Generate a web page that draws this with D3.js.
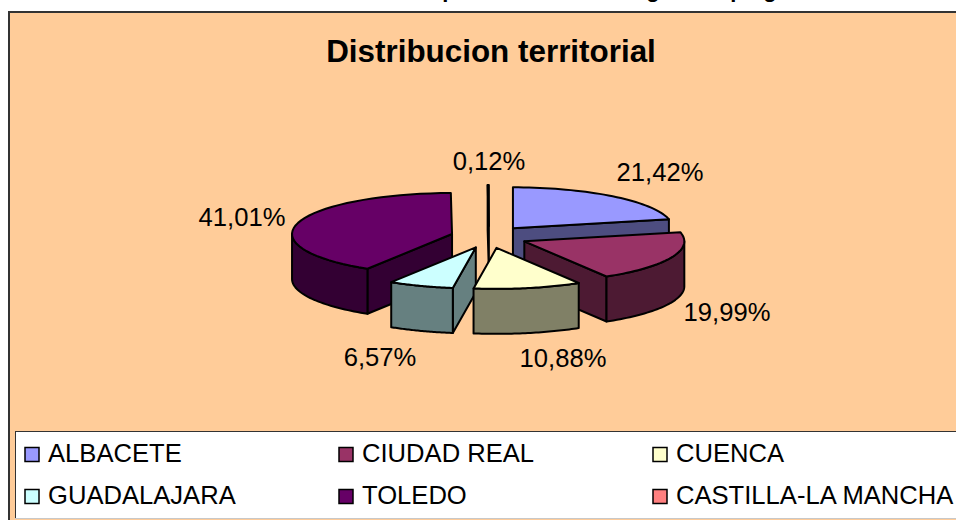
<!DOCTYPE html>
<html><head><meta charset="utf-8">
<script src="https://cdn.jsdelivr.net/npm/d3@7"></script>
<style>html,body{margin:0;padding:0;background:#fff}svg{display:block}text{font-family:"Liberation Sans",Arial,sans-serif;fill:#000}</style>
</head><body><svg id="c" width="956" height="520"></svg>
<script>
const categories=["ALBACETE","CIUDAD REAL","CUENCA","GUADALAJARA","TOLEDO","CASTILLA-LA MANCHA"];
const shares=[21.42,19.99,10.88,6.57,41.01,0.12];
const pctLabels=["21,42%","19,99%","10,88%","6,57%","41,01%","0,12%"];
const colors=["#9999FF","#993366","#FFFFCC","#CCFFFF","#660066","#FF8080"];
const sideColors=["#4d4d80","#4d1a33","#808066","#668080","#330033","#804040"];
const drawOrder=[0,5,4,1,3,2];
const labelPos=[[660,172],[727,312],[563,358],[380,357],[242,217],[489,161]];
const clippedGlyphs=[["p",449],["g",653],["p",737],["g",770]];

const svg=d3.select("#c");
clippedGlyphs.forEach(d=>svg.append("text").attr("x",d[1]).attr("y",-3).attr("text-anchor","middle")
  .attr("font-size",22).attr("font-weight","bold").text(d[0]));
svg.append("rect").attr("x",9).attr("y",12).attr("width",960).attr("height",520)
  .attr("fill","#FFCC99").attr("stroke","#333").attr("stroke-width",2);
svg.append("text").attr("x",491).attr("y",62).attr("text-anchor","middle")
  .attr("font-size",31.4).attr("font-weight","bold").text("Distribucion territorial");

const sx=d3.scaleLinear().domain([-1,1]).range([329,649]);
const sy=d3.scaleLinear().domain([-1,1]).range([196,278]);
const depth=45, exX=0.24, exY=0.27;
const arcs=d3.pie().sort(null).value(d=>d)(shares);
const g=svg.append("g").attr("stroke","#000").attr("stroke-width",2).attr("stroke-linejoin","round");
const poly=pts=>d3.line()(pts);
drawOrder.forEach(i=>{
  const a=arcs[i], m=(a.startAngle+a.endAngle)/2;
  const ox=exX*Math.sin(m), oy=-exY*Math.cos(m);
  const pt=t=>[sx(ox+Math.sin(t)),sy(oy-Math.cos(t))];
  const apex=[sx(ox),sy(oy)];
  const down=p=>[p[0],p[1]+depth];
  const rim=(s,e)=>d3.range(0,41).map(k=>pt(s+(e-s)*k/40));
  const wall=pts=>g.append("path").attr("d",poly(pts.concat(pts.map(down).reverse()))+"Z").attr("fill",sideColors[i]);
  if(Math.sin(a.startAngle)<0) wall([apex,pt(a.startAngle)]);
  if(Math.sin(a.endAngle)>1e-6) wall([apex,pt(a.endAngle)]);
  const s=Math.max(a.startAngle,Math.PI/2), e=Math.min(a.endAngle,3*Math.PI/2);
  if(e>s) wall(rim(s,e));
  g.append("path").attr("d",poly([apex].concat(rim(a.startAngle,a.endAngle)))+"Z").attr("fill",colors[i]);
});
pctLabels.forEach((t,i)=>svg.append("text").attr("x",labelPos[i][0]).attr("y",labelPos[i][1]+9)
  .attr("text-anchor","middle").attr("font-size",25.6).text(t));

svg.append("rect").attr("x",15.5).attr("y",431.5).attr("width",960).attr("height",87)
  .attr("fill","#fff").attr("stroke","#333").attr("stroke-width",1);
svg.append("line").attr("x1",15).attr("x2",956).attr("y1",518.5).attr("y2",518.5).attr("stroke","#c8c8c8");
const lx=d3.scaleOrdinal().domain([0,1,2]).range([25,339,653]);
const ly=d3.scaleOrdinal().domain([0,1]).range([453,495]);
categories.forEach((c,i)=>{
  const col=i%3,row=Math.floor(i/3);
  svg.append("rect").attr("x",lx(col)).attr("y",ly(row)-5.5).attr("width",14).attr("height",14)
    .attr("fill",colors[i]).attr("stroke","#000").attr("stroke-width",1.5);
  svg.append("text").attr("x",lx(col)+23).attr("y",ly(row)+9).attr("font-size",25.6).text(c);
});
</script></body></html>
